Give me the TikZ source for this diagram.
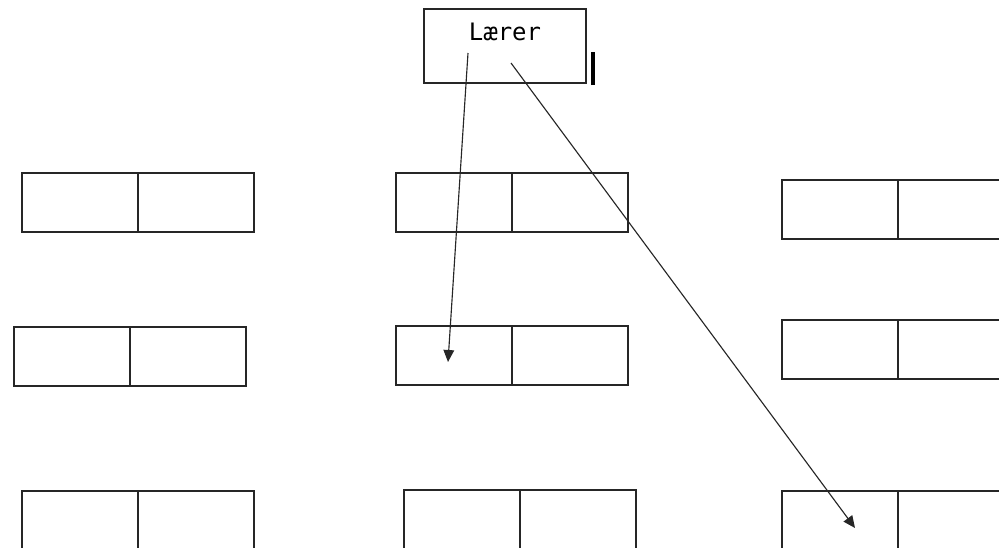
\documentclass[tikz,border=0pt]{standalone}
\usepackage{fontspec}
\newfontfamily\deskfont{DejaVu Sans Mono}
\usetikzlibrary{arrows.meta, calc, positioning}

\tikzset{
    desk/.style={draw=black!85, rectangle, line width=0.9pt, minimum width=87pt, minimum height=44.25pt, inner sep=0pt, outer sep=0pt},
    pointer/.style={-{Triangle[length=9pt, width=8pt]}, line width=0.85pt, draw=black!85}
}

\begin{document}
\begin{tikzpicture}[x=0.75pt, y=-0.75pt]
                    \useasboundingbox (0, 0) rectangle (999, 547);
                    \clip (0, 0) rectangle (999, 547);

                    \node[desk, minimum width=121.5pt, minimum height=55.5pt] (laerer) at (505, 46) {};
                    \node[anchor=base, inner sep=0pt, font=\deskfont\fontsize{18}{20}\selectfont] (laerertxt) at ($(laerer.north) + (0, 31)$) {Lærer};

                    \node[desk] (d11) at (80, 202.5) {};
                    \node[desk, right=0pt of d11] (d11r) {};
                    \node[desk] (d12) at (454, 202.5) {};
                    \node[desk, right=0pt of d12] (d12r) {};
                    \node[desk] (d13) at (840, 209.5) {};
                    \node[desk, right=0pt of d13] (d13r) {};

                    \node[desk] (d21) at (72, 356.5) {};
                    \node[desk, right=0pt of d21] (d21r) {};
                    \node[desk] (d22) at (454, 355.5) {};
                    \node[desk, right=0pt of d22] (d22r) {};
                    \node[desk] (d23) at (840, 349.5) {};
                    \node[desk, right=0pt of d23] (d23r) {};

                    \node[desk] (d31) at (80, 520.5) {};
                    \node[desk, right=0pt of d31] (d31r) {};
                    \node[desk] (d32) at (462, 519.5) {};
                    \node[desk, right=0pt of d32] (d32r) {};
                    \node[desk] (d33) at (840, 520.5) {};
                    \node[desk, right=0pt of d33] (d33r) {};

                    \coordinate (from1) at ($(laerer.center) + (-37, 7)$);
                    \coordinate (from2) at ($(laerer.center) + (6, 17)$);
                    \coordinate (to1) at ($(d22.center) + (-6, 6.5)$);
                    \coordinate (to2) at ($(d33.center) + (15, 7.5)$);
                    \coordinate (cursor) at ($(laerer.south east) + (7, 2)$);

                    \draw[pointer] (from1) -- (to1);
                    \draw[pointer] (from2) -- (to2);
                    \draw[line width=2.8pt] (cursor) -- ++(0, -33);
\end{tikzpicture}
\end{document}
